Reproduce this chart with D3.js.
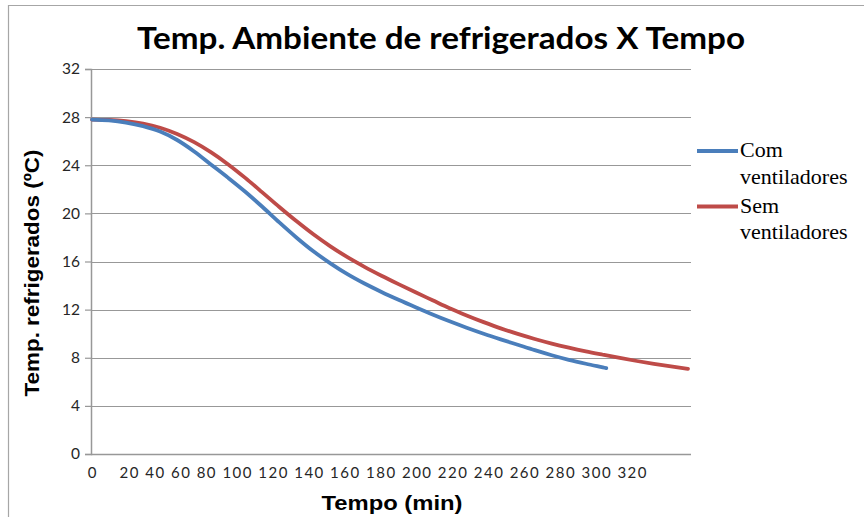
<!DOCTYPE html>
<html>
<head>
<meta charset="utf-8">
<script src="https://cdn.jsdelivr.net/npm/d3@7"></script>
<style>
  body { margin: 0; background: #fff; }
  svg { display: block; }
</style>
</head>
<body>
<svg id="chart" width="864" height="517"></svg>
<script>
// Chart texts
const chartTitle = "Temp. Ambiente de refrigerados X Tempo";
const xAxisTitle = "Tempo (min)";
const yAxisTitle = "Temp. refrigerados (ºC)";

// Axis ticks
const yTicks = [0, 4, 8, 12, 16, 20, 24, 28, 32];
const xTickLabels = ["0", "20", "40", "60", "80", "100", "120", "140", "160", "180", "200", "220", "240", "260", "280", "300", "320"];

// Series: time (min) and temperature (ºC)
const comTime = [0, 10, 20, 30, 40, 50, 60, 70, 80, 90, 100, 110, 120, 130, 140, 150, 160, 170, 180, 190, 200, 210, 220, 230, 240, 250, 260, 270, 280, 290, 300, 302];
const comTemp = [27.8, 27.73, 27.55, 27.25, 26.8, 26.1, 25.15, 24.05, 22.95, 21.8, 20.55, 19.25, 18.0, 16.85, 15.85, 14.95, 14.17, 13.47, 12.82, 12.2, 11.6, 11.03, 10.5, 10.0, 9.53, 9.08, 8.63, 8.21, 7.83, 7.5, 7.2, 7.14];

const semTime = [0, 10, 20, 30, 40, 50, 60, 70, 80, 90, 100, 110, 120, 130, 140, 150, 160, 170, 180, 190, 200, 210, 220, 230, 240, 250, 260, 270, 280, 290, 300, 310, 320, 330, 340, 350];
const semTemp = [27.8, 27.77, 27.67, 27.47, 27.12, 26.6, 25.92, 25.07, 24.07, 22.95, 21.75, 20.53, 19.36, 18.26, 17.26, 16.36, 15.56, 14.82, 14.12, 13.44, 12.78, 12.12, 11.52, 10.96, 10.44, 9.98, 9.56, 9.18, 8.84, 8.53, 8.25, 7.98, 7.73, 7.5, 7.28, 7.08];

// Legend entries (two text lines each)
const seriesLabels = [["Com", "ventiladores"], ["Sem", "ventiladores"]];
const seriesColors = ["#4a7ebb", "#be4b48"];

const svg = d3.select("#chart");

// Plot frame
const plot = { left: 91, right: 691, top: 69, bottom: 454 };
const x = d3.scaleLinear().domain([0, 350]).range([92, 688]);
const y = d3.scaleLinear().domain([0, 32]).range([plot.bottom, plot.top]);

// Outer chart border (left and top edges visible)
svg.append("path")
  .attr("d", `M8.5,517 V5.5 H864`)
  .attr("fill", "none")
  .attr("stroke", "#a6a6a6")
  .attr("stroke-width", 1.2);

// Title
svg.append("text")
  .attr("x", 441).attr("y", 49)
  .attr("text-anchor", "middle")
  .attr("font-family", "Lato, 'Open Sans', sans-serif")
  .attr("font-weight", "bold")
  .attr("font-size", 30)
  .attr("textLength", 608)
  .attr("lengthAdjust", "spacingAndGlyphs")
  .attr("fill", "#000")
  .text(chartTitle);

// Horizontal gridlines
svg.append("g")
  .selectAll("line")
  .data(yTicks.filter(d => d > 0))
  .join("line")
  .attr("x1", plot.left).attr("x2", plot.right)
  .attr("y1", d => Math.round(y(d)) + 0.5).attr("y2", d => Math.round(y(d)) + 0.5)
  .attr("stroke", "#989898")
  .attr("stroke-width", 1.2);

// Y axis with ticks
const yAxis = svg.append("g")
  .attr("transform", `translate(${plot.left},0)`)
  .call(d3.axisLeft(y).tickValues(yTicks).tickSize(6).tickPadding(5).tickFormat(d3.format("d")));
yAxis.select(".domain").attr("stroke", "#989898").attr("stroke-width", 1.5);
yAxis.selectAll(".tick line").attr("stroke", "#989898").attr("stroke-width", 1.2);
yAxis.selectAll(".tick text")
  .attr("font-family", "Lato, 'Open Sans', sans-serif")
  .attr("font-size", 15.5)
  .attr("fill", "#262626");

// X axis baseline
svg.append("line")
  .attr("x1", plot.left).attr("x2", plot.right)
  .attr("y1", Math.round(y(0)) + 0.5).attr("y2", Math.round(y(0)) + 0.5)
  .attr("stroke", "#989898")
  .attr("stroke-width", 1.5);

// X tick labels: first under the origin, the rest as a spaced run of labels
const xLabelFont = "Lato, 'Open Sans', sans-serif";
svg.append("text")
  .attr("x", x(0)).attr("y", 478)
  .attr("text-anchor", "middle")
  .attr("font-family", xLabelFont)
  .attr("font-size", 15)
  .attr("fill", "#262626")
  .text(xTickLabels[0]);
svg.append("text")
  .attr("x", 119.5).attr("y", 478)
  .attr("font-family", xLabelFont)
  .attr("font-size", 15)
  .attr("fill", "#262626")
  .attr("textLength", 527)
  .attr("lengthAdjust", "spacing")
  .text(xTickLabels.slice(1).join(" "));

// Axis titles
svg.append("text")
  .attr("x", 392).attr("y", 510)
  .attr("text-anchor", "middle")
  .attr("font-family", "'Liberation Sans', Arial, sans-serif")
  .attr("font-weight", "bold")
  .attr("font-size", 20.5)
  .attr("textLength", 141)
  .attr("lengthAdjust", "spacingAndGlyphs")
  .attr("fill", "#000")
  .text(xAxisTitle);

svg.append("text")
  .attr("transform", "translate(39,273) rotate(-90)")
  .attr("text-anchor", "middle")
  .attr("font-family", "'Liberation Sans', Arial, sans-serif")
  .attr("font-weight", "bold")
  .attr("font-size", 21)
  .attr("textLength", 247)
  .attr("lengthAdjust", "spacingAndGlyphs")
  .attr("fill", "#000")
  .text(yAxisTitle);

// Series lines
const line = d3.line()
  .x(d => x(d[0]))
  .y(d => y(d[1]))
  .curve(d3.curveMonotoneX);

const series = [
  d3.zip(comTime, comTemp),
  d3.zip(semTime, semTemp)
];

// Draw "Sem" under "Com" so the blue line sits on top where they meet
[1, 0].forEach(i => {
  svg.append("path")
    .datum(series[i])
    .attr("d", line)
    .attr("fill", "none")
    .attr("stroke", seriesColors[i])
    .attr("stroke-width", 3.8)
    .attr("stroke-linecap", "round")
    .attr("stroke-linejoin", "round");
});

// Legend
const legend = svg.append("g");
seriesLabels.forEach((lines, i) => {
  const top = 151 + i * 55.5;
  legend.append("line")
    .attr("x1", 697).attr("x2", 738)
    .attr("y1", top).attr("y2", top)
    .attr("stroke", seriesColors[i])
    .attr("stroke-width", 3.8);
  const t = legend.append("text")
    .attr("font-family", "'Liberation Serif', 'Times New Roman', serif")
    .attr("font-size", 22)
    .attr("fill", "#000");
  lines.forEach((s, k) => {
    t.append("tspan")
      .attr("x", 740)
      .attr("y", top + 6 + k * 26.5)
      .text(s);
  });
});
</script>
</body>
</html>
